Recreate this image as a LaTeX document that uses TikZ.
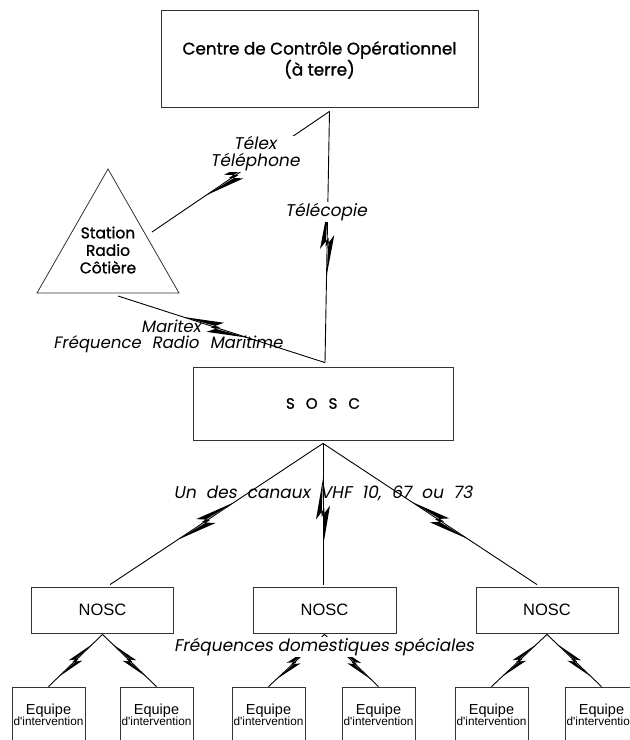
\documentclass[tikz,border=0pt]{standalone}
\usepackage{fontspec}
\setmainfont{Poppins}
\newfontfamily\bdfont[FakeBold=1.2]{Poppins}
\newfontfamily\slfont[FakeSlant=0.18]{Poppins}
\newfontfamily\arfont{Liberation Sans}
\newcommand\wsa{\hspace{10pt}}
\newcommand\wsb{\hspace{11pt}}
\usetikzlibrary{calc}
\tikzset{
  boxst/.style={draw=black!80, line width=0.8pt, rectangle, inner sep=0pt},
  conn/.style={line width=0.9pt, black},
  tri/.style={draw=black!80, line width=0.8pt},
  lab/.style={font=\slfont\fontsize{17}{17}\selectfont, inner sep=1pt, align=center},
  labs/.style={lab, font=\slfont\fontsize{16.5}{17}\selectfont, inner sep=0pt},
  labw/.style={lab, fill=white},
  toptext/.style={font=\bdfont\fontsize{16.8}{20}\selectfont, align=center, inner sep=0pt},
  tritext/.style={font=\bdfont\fontsize{15.5}{17.5}\selectfont, align=center, inner sep=0pt},
  nosc/.style={boxst, minimum width=142pt, minimum height=46pt, font=\arfont\fontsize{16.5}{18}\selectfont},
  eqbox/.style={boxst, minimum width=73pt, minimum height=80pt},
  eqtext/.style={align=center, inner sep=0pt},
}
\newcommand\zap[5]{%
  \draw[conn] (#1) -- (#2);
  \path (#1) -- (#2) coordinate[pos=#3] (zc);
  \pgfmathanglebetweenpoints{\pgfpointanchor{#1}{center}}{\pgfpointanchor{#2}{center}}%
  \edef\zang{\pgfmathresult}%
  \begin{scope}[shift={(zc)}, rotate=\zang, yscale=#4, scale=#5]
    \fill[black] (-34pt,0pt) -- (7pt,7pt) -- (-4.5pt,-1.5pt) -- (34pt,0pt)
      -- (-7pt,-7pt) -- (4.5pt,1.5pt) -- cycle;
  \end{scope}
}
\begin{document}
\begin{tikzpicture}[x=1pt,y=-1pt]
\useasboundingbox (0,0) rectangle (630,740);
\fill[white] (0,0) rectangle (630,740);

% top box
\node[boxst, minimum width=317pt, minimum height=97pt] (ccop) at (319.5,58.5) {};
\node[toptext] (ccopt) at (319.5,60) {Centre de Contrôle Opérationnel\\(à terre)};

% triangle
\coordinate (ta) at (108,169);
\coordinate (tl) at (37,293);
\coordinate (tr) at (179,293);
\draw[tri] (ta) -- (tl) -- (tr) -- cycle;
\node[tritext] (srct) at (108,250) {Station\\Radio\\Côtière};

% SOSC
\node[boxst, minimum width=260pt, minimum height=73pt, font=\bdfont\fontsize{15}{18}\selectfont] (sosc) at (323,403.5)
  {S\hspace{11pt}O\hspace{11pt}S\hspace{11pt}C};

% NOSC
\node[nosc] (n1) at (102.5,610) {NOSC};
\node[nosc, minimum width=143pt] (n2) at (324.5,610) {NOSC};
\node[nosc] (n3) at (547,610) {NOSC};

% Equipes
\foreach \i/\x in {1/48.5,2/156.5,3/268.5,4/378.5,5/491.5,6/601.5}{
  \node[eqbox] (e\i) at (\x,727) {};
  \node[eqtext] (e\i t) at (\x,714.5) {\arfont\fontsize{14.5}{15}\selectfont Equipe\\[-1pt]\arfont\fontsize{11.8}{13}\selectfont d'intervention};
  \coordinate (e\i n) at (e\i.north);
}

% connection points
\coordinate (c1) at ($(ccop.south)+(10,4)$);
\coordinate (s1) at (152,232);
\coordinate (s2) at (118,296);
\coordinate (so) at ($(sosc.north)+(2,-4)$);
\coordinate (sb) at ($(sosc.south)+(0,3)$);
\coordinate (n1t) at ($(n1.north)+(7.5,-2)$);
\coordinate (n2t) at ($(n2.north)+(-1.5,-2)$);
\coordinate (n3t) at ($(n3.north)+(-10,-2)$);
\coordinate (n1b) at ($(n1.south)+(0,1)$);
\coordinate (n2b) at ($(n2.south)+(0,1)$);
\coordinate (n3b) at ($(n3.south)+(0,1)$);

% connectors with lightning
\zap{c1}{s1}{0.54}{-1}{1}
\zap{c1}{so}{0.52}{-1}{1}
\zap{s2}{so}{0.47}{1}{1}
\zap{sb}{n1t}{0.55}{-1}{1}
\zap{sb}{n2t}{0.49}{-1}{1}
\zap{sb}{n3t}{0.545}{1}{1}
\zap{n1b}{e1n}{0.5}{-1}{0.7}
\zap{n1b}{e2n}{0.5}{1}{0.7}
\zap{n2b}{e3n}{0.55}{-1}{0.7}
\zap{n2b}{e4n}{0.55}{1}{0.7}
\zap{n3b}{e5n}{0.5}{-1}{0.7}
\zap{n3b}{e6n}{0.5}{1}{0.7}

% labels
\node[labw] (ltel) at (255,154) {Télex\\Téléphone};
\node[labw] (lfax) at (326,212) {Télécopie};
\node[labs, anchor=east] (lmx) at (201,326) {Maritex};
\node[labs] (lfrm) at (168,344) {Fréquence\wsb Radio\wsb Maritime};
\node[lab] (lvhf) at (323,493) {Un\wsa des\wsa canaux\wsa VHF\wsa 10,\wsa 67\wsa ou\wsa 73};
\node[labw] (ldom) at (324,647) {Fréquences domestiques spéciales};
\end{tikzpicture}
\end{document}
